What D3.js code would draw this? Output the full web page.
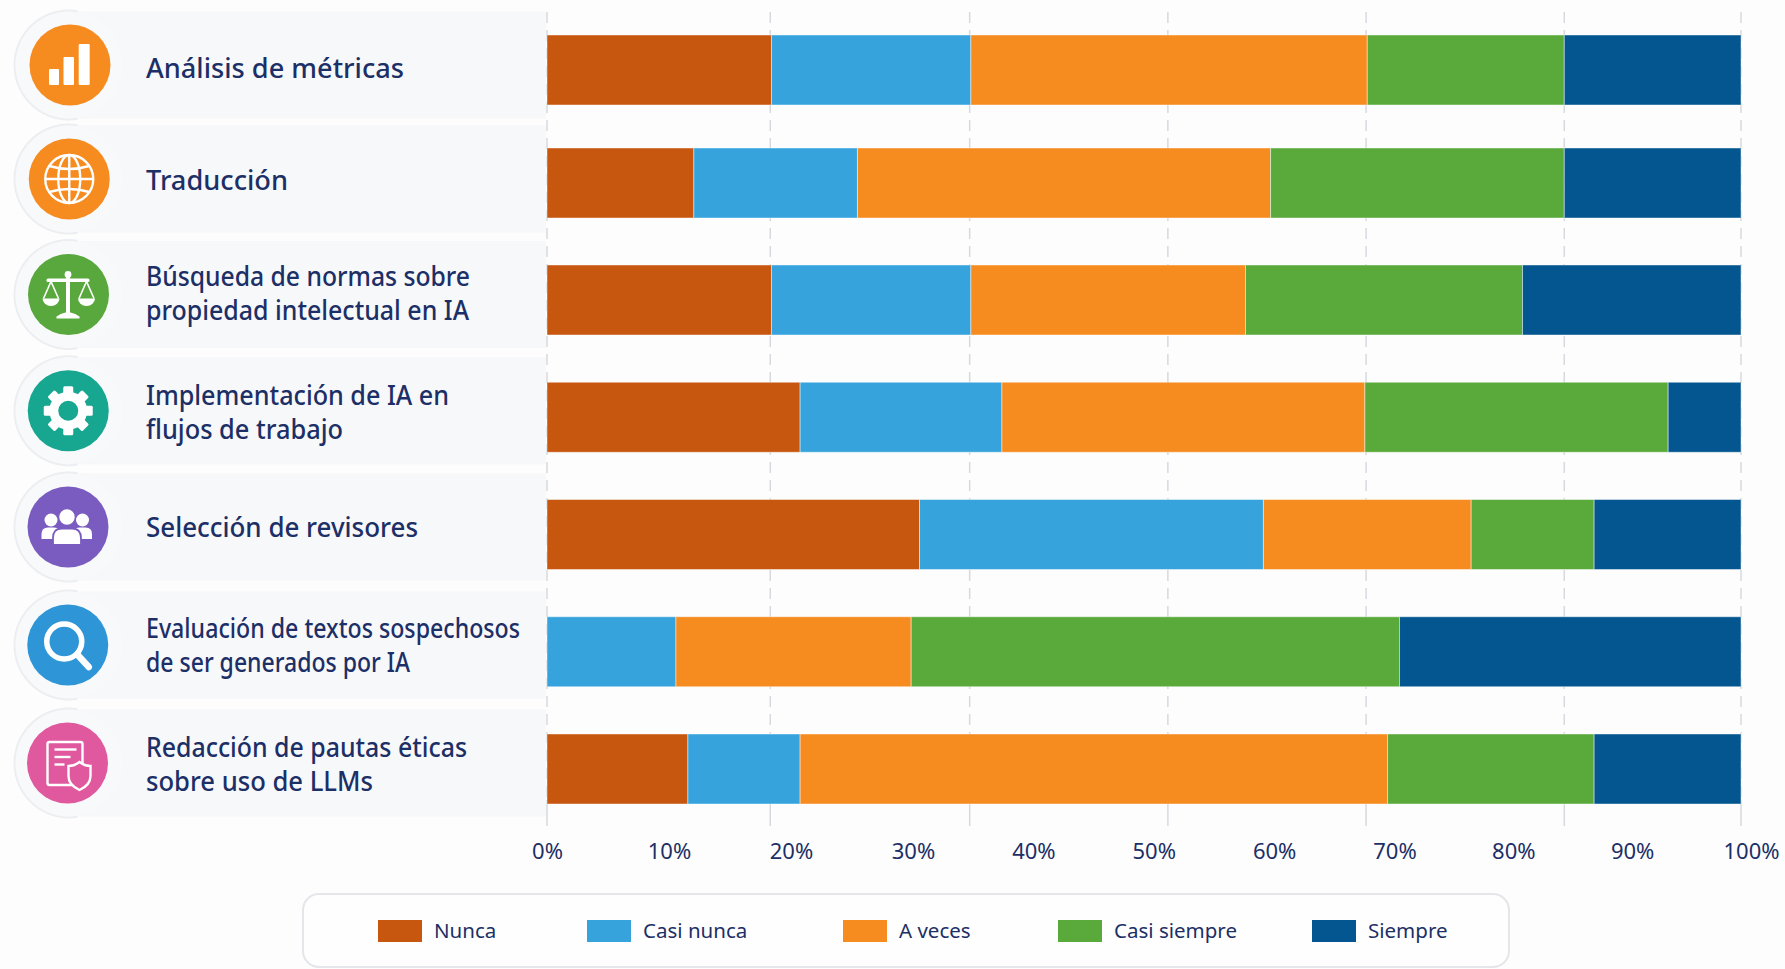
<!DOCTYPE html>
<html lang="es">
<head>
<meta charset="utf-8">
<title>Uso de IA</title>
<script src="https://cdn.jsdelivr.net/npm/d3@7"></script>
<style>
    html, body { margin: 0; padding: 0; background: #fdfdfd; }
    svg { display: block; }
    text { font-family: "Noto Sans", sans-serif; fill: #1c2f66; }
</style>
</head>
<body>
<svg id="chart" width="1785" height="969"></svg>
<script>
// chart values, in percent
const categories = [
    "Análisis de métricas",
    "Traducción",
    "Búsqueda de normas sobre\npropiedad intelectual en IA",
    "Implementación de IA en\nflujos de trabajo",
    "Selección de revisores",
    "Evaluación de textos sospechosos\nde ser generados por IA",
    "Redacción de pautas éticas\nsobre uso de LLMs"
];
const seriesNames = ["Nunca", "Casi nunca", "A veces", "Casi siempre", "Siempre"];
const nunca       = [18.8, 12.3, 18.8, 21.2, 31.2,  0.0, 11.8];
const casiNunca   = [16.7, 13.7, 16.7, 16.9, 28.8, 10.8,  9.4];
const aVeces      = [33.2, 34.6, 23.0, 30.4, 17.4, 19.7, 49.2];
const casiSiempre = [16.5, 24.6, 23.2, 25.4, 10.3, 40.9, 17.3];
const siempre     = [14.8, 14.8, 18.3,  6.1, 12.3, 28.6, 12.3];
const seriesValues = [nunca, casiNunca, aVeces, casiSiempre, siempre];

// the dashed guides are not on the printed ticks in the original
const gridValues = [0, 18.7, 35.4, 52, 68.6, 85.2, 100];
const tickValues = [0, 10, 20, 30, 40, 50, 60, 70, 80, 90, 100];

const seriesColors = ["#c7560f", "#36a3dc", "#f68b1f", "#5aaa3b", "#03568f"];
const iconColors = ["#f68b1f", "#f68b1f", "#58a83e", "#17a68f", "#7a5cc0", "#2e96d6", "#e0589e"];

const svg = d3.select("#chart");
const rowIdx = categories.map((d, i) => i);

// scales. rows are slightly unevenly spaced, hence the piecewise ones
const xScale = d3.scaleLinear().domain([0, 100]).range([547, 1741]);
const tickScale = d3.scaleLinear().domain([0, 30, 70, 100]).range([547, 913, 1394.5, 1751]);
const barTop = d3.scaleLinear().domain([0, 1, 2, 6]).range([35, 148, 265, 734]);
const panelMid = d3.scaleLinear().domain([0, 1, 2, 4, 6]).range([65, 179, 294.5, 527, 763]);
const labelMid = d3.scaleLinear().domain(rowIdx).range([78, 189.7, 303.3, 422, 536.5, 655.3, 774.3]);
const barHeight = 70;
const iconX = d3.scaleLinear().domain([0, 2, 6]).range([70, 68.5, 67.5]);
const colorScale = d3.scaleOrdinal().domain(seriesNames).range(seriesColors);

// width of each label line in the original, glyphs are fitted to it
const labelWidths = [[258], [142], [324, 323], [303, 197], [272], [374, 264], [321, 227]];

// row panels behind the labels
const panels = svg.append("g").selectAll("g").data(rowIdx).enter().append("g")
    .attr("transform", i => "translate(0," + panelMid(i) + ")");

panels.append("rect")
    .attr("x", 69).attr("y", -53.5)
    .attr("width", 477).attr("height", 107)
    .attr("fill", "#f7f8fa");

panels.append("circle")
    .attr("cx", 69).attr("r", 53.5)
    .attr("fill", "#f8f9fa");

panels.append("path")
    .attr("transform", "translate(69,0)")
    .attr("d", d3.arc().innerRadius(53.5).outerRadius(55.5).startAngle(Math.PI * 0.95).endAngle(Math.PI * 2.05))
    .attr("fill", "#eceef1");

// guides, dashed between the bars and plain under the last one
const grid = svg.append("g").attr("stroke", "#d6d9de").attr("stroke-width", 1.5);

grid.selectAll("line.dash").data(gridValues).enter().append("line")
    .attr("class", "dash")
    .attr("x1", d => xScale(d)).attr("x2", d => xScale(d))
    .attr("y1", 12).attr("y2", 800)
    .attr("stroke-dasharray", "11 7");

grid.selectAll("line.foot").data(gridValues).enter().append("line")
    .attr("class", "foot")
    .attr("x1", d => xScale(d)).attr("x2", d => xScale(d))
    .attr("y1", 800).attr("y2", 826);

// stacked bars
const table = rowIdx.map(i => {
    const row = { category: categories[i] };
    seriesNames.forEach((s, j) => { row[s] = seriesValues[j][i]; });
    return row;
});
const stacked = d3.stack().keys(seriesNames)(table);

svg.append("g").selectAll("g").data(stacked).enter().append("g")
    .attr("fill", d => colorScale(d.key))
    .selectAll("rect").data(d => d).enter().append("rect")
    .attr("x", d => xScale(d[0]))
    .attr("width", d => xScale(d[1]) - xScale(d[0]))
    .attr("y", (d, i) => barTop(i))
    .attr("height", barHeight)
    .attr("stroke", "#ffffff")
    .attr("stroke-opacity", 0.45)
    .attr("stroke-width", 1);

// row labels
const labels = svg.append("g").selectAll("text").data(rowIdx).enter().append("text")
    .attr("font-size", 27)
    .attr("font-weight", 500);

labels.each(function(i) {
    const lines = categories[i].split("\n");
    d3.select(this).selectAll("tspan").data(lines).enter().append("tspan")
        .attr("x", 146)
        .attr("y", (d, k) => labelMid(i) + (lines.length > 1 ? (k ? 17 : -17) : 0))
        .attr("textLength", (d, k) => labelWidths[i][k])
        .attr("lengthAdjust", "spacingAndGlyphs")
        .text(d => d);
});

// icons, drawn around the centre of each circle
const icons = svg.append("g").selectAll("g").data(rowIdx).enter().append("g")
    .attr("transform", i => "translate(" + iconX(i) + "," + panelMid(i) + ")");
icons.append("circle").attr("r", 40.5).attr("fill", i => iconColors[i]);

const iconDrawers = [drawBars, drawGlobe, drawScales, drawGear, drawPeople, drawLens, drawDoc];
icons.each(function(i) { iconDrawers[i](d3.select(this), iconColors[i]); });

function drawBars(g) {
    [[-21, 4, 10, 16], [-6.5, -8, 10.5, 28], [8.7, -21, 11, 41]].forEach(b => {
        g.append("rect").attr("x", b[0]).attr("y", b[1]).attr("width", b[2]).attr("height", b[3])
            .attr("rx", 1).attr("fill", "#fff");
    });
}

function drawGlobe(g) {
    const w = g.append("g").attr("fill", "none").attr("stroke", "#fff").attr("stroke-width", 2.4);
    w.append("circle").attr("r", 24);
    w.append("ellipse").attr("rx", 11).attr("ry", 24);
    w.append("line").attr("y1", -24).attr("y2", 24);
    w.append("line").attr("x1", -24).attr("x2", 24);
    w.append("path").attr("d", "M-20,-13Q0,-7 20,-13");
    w.append("path").attr("d", "M-20,13Q0,7 20,13");
}

function drawScales(g) {
    g.append("circle").attr("cx", -0.5).attr("cy", -20).attr("r", 3.4).attr("fill", "#fff");
    g.append("rect").attr("x", -22).attr("y", -16).attr("width", 43).attr("height", 3.6).attr("rx", 1.5).attr("fill", "#fff");
    g.append("rect").attr("x", -2.5).attr("y", -18).attr("width", 4).attr("height", 38).attr("fill", "#fff");
    g.append("path").attr("d", "M-12,24V22Q-8,19 -3,18H2Q7,19 11,22V24Z").attr("fill", "#fff");
    [-17.5, 18].forEach(cx => {
        const pan = g.append("g").attr("transform", "translate(" + cx + ",0)");
        pan.append("path").attr("d", "M-8.5,4H8.5A8.5,7.5 0 0 1 -8.5,4Z").attr("fill", "#fff");
        pan.append("path").attr("d", "M-7.5,4L0,-13L7.5,4").attr("fill", "none").attr("stroke", "#fff").attr("stroke-width", 1.6);
    });
}

function drawGear(g, color) {
    d3.range(8).forEach(k => {
        g.append("rect").attr("x", -5).attr("y", -24.5).attr("width", 10).attr("height", 10).attr("rx", 1.5)
            .attr("fill", "#fff").attr("transform", "rotate(" + k * 45 + ")");
    });
    g.append("circle").attr("r", 19).attr("fill", "#fff");
    g.append("circle").attr("r", 10).attr("fill", color);
}

function drawPeople(g, color) {
    [-17, 14.5].forEach(cx => {
        g.append("circle").attr("cx", cx).attr("cy", -7).attr("r", 6.5).attr("fill", "#fff");
        g.append("path").attr("transform", "translate(" + cx + ",0)")
            .attr("d", "M-9.5,12V7Q-9.5,0.5 -3,0.5H3Q9.5,0.5 9.5,7V12Z").attr("fill", "#fff");
    });
    g.append("circle").attr("cx", -1).attr("cy", -10).attr("r", 8.5).attr("fill", "#fff").attr("stroke", color).attr("stroke-width", 1.5);
    g.append("path").attr("d", "M-15,18V11Q-15,1.5 -6,1.5H4Q13,1.5 13,11V18Z").attr("fill", "#fff").attr("stroke", color).attr("stroke-width", 1.8);
}

function drawLens(g) {
    g.append("circle").attr("cx", -3.5).attr("cy", -3.5).attr("r", 17.5)
        .attr("fill", "none").attr("stroke", "#fff").attr("stroke-width", 5.5);
    g.append("line").attr("x1", 10).attr("y1", 10).attr("x2", 21).attr("y2", 22)
        .attr("stroke", "#fff").attr("stroke-width", 6.5).attr("stroke-linecap", "round");
}

function drawDoc(g, color) {
    g.append("rect").attr("x", -20).attr("y", -21).attr("width", 35).attr("height", 43).attr("rx", 2)
        .attr("fill", "none").attr("stroke", "#fff").attr("stroke-width", 2.4);
    [[-13.5, 9], [-6, 3], [1.5, -3]].forEach(l => {
        g.append("line").attr("x1", -13).attr("x2", l[1]).attr("y1", l[0]).attr("y2", l[0])
            .attr("stroke", "#fff").attr("stroke-width", 2.4);
    });
    g.append("path").attr("d", "M12,-1Q17,3 23,3V13Q23,22 12,27Q1,22 1,13V3Q7,3 12,-1Z")
        .attr("fill", color).attr("stroke", "#fff").attr("stroke-width", 2.4);
}

// x axis labels
const xAxis = d3.axisBottom(tickScale)
    .tickValues(tickValues)
    .tickFormat(d => d + "%")
    .tickSize(0)
    .tickPadding(0);

const axisG = svg.append("g")
    .attr("transform", "translate(0,843)")
    .call(xAxis);
axisG.select(".domain").remove();
axisG.selectAll("text")
    .attr("font-size", 22)
    .attr("font-family", "'Noto Sans', sans-serif")
    .attr("fill", "#2a3c6e");

// legend
const legendX = d3.scaleOrdinal().domain(seriesNames).range([378, 587, 843, 1058, 1312]);
const legend = svg.append("g");

legend.append("rect")
    .attr("x", 303).attr("y", 894)
    .attr("width", 1206).attr("height", 73)
    .attr("rx", 16)
    .attr("fill", "#fefefe")
    .attr("stroke", "#e4e6ea")
    .attr("stroke-width", 2);

const legendItems = legend.selectAll("g.item").data(seriesNames).enter().append("g")
    .attr("class", "item")
    .attr("transform", d => "translate(" + legendX(d) + ",0)");

legendItems.append("rect")
    .attr("y", 920).attr("width", 44).attr("height", 22)
    .attr("fill", d => colorScale(d));

legendItems.append("text")
    .attr("x", 56).attr("y", 938)
    .attr("font-size", 20.5)
    .text(d => d);
</script>
</body>
</html>
